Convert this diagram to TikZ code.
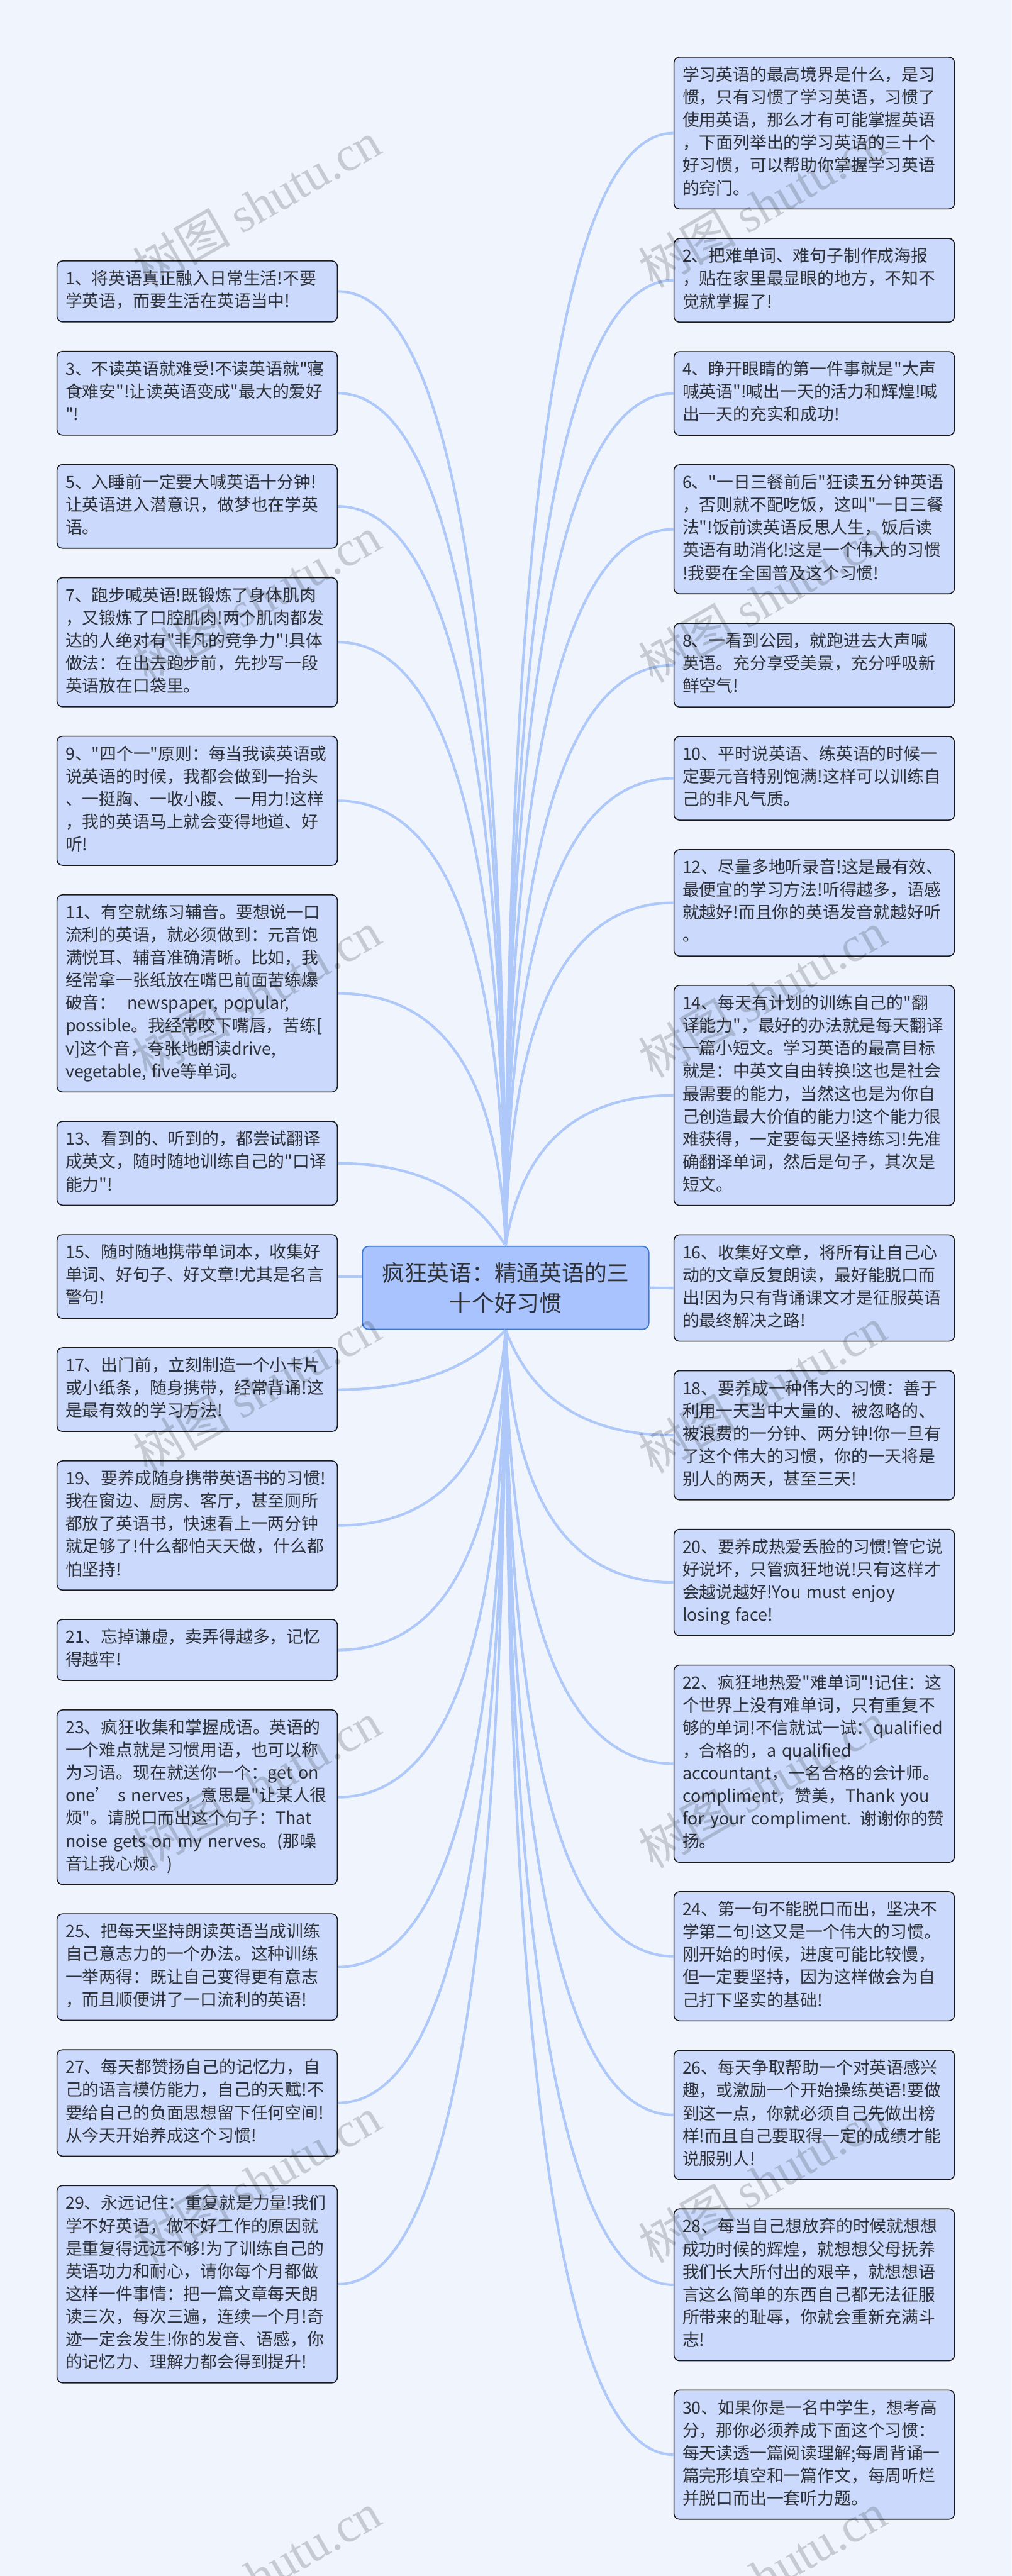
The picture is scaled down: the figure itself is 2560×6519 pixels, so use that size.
\documentclass[tikz,border=0pt]{standalone}
\usepackage{fontspec}
\setmainfont{Noto Sans CJK SC}[Ligatures=TeXOff]
\newfontfamily\markfont{Liberation Serif}
\usetikzlibrary{positioning}
\definecolor{bgcol}{HTML}{EFF4FD}
\definecolor{topicfill}{HTML}{CBDAFC}
\definecolor{rootfill}{HTML}{A9C3FE}
\definecolor{rootline}{HTML}{3C78D8}
\definecolor{branchcol}{HTML}{AEC8F9}
\definecolor{textcol}{HTML}{2E3138}
\tikzstyle{topic} = [rectangle, rounded corners=14pt, draw=black!90, line width=2.5pt, fill=topicfill, text=textcol, text width=666.5pt, inner xsep=21.5pt, inner ysep=19.75pt, align=left, font=\fontsize{42.67}{57.45}\selectfont, execute at begin node=\strut, execute at end node=\strut]
\tikzstyle{root} = [rectangle, rounded corners=16pt, draw=rootline, line width=3pt, fill=rootfill, text=textcol, minimum width=725pt, minimum height=210pt, align=center, font=\fontsize{56.9}{76}\selectfont]
\tikzstyle{branch} = [branchcol, line width=6.5pt]
\tikzstyle{stamp} = [rotate=30, text=black, opacity=.17, font=\fontsize{124}{124}\selectfont]
\newcommand{\marktext}{树图 {\markfont shutu.cn}}

\begin{document}
\begin{tikzpicture}[x=1pt, y=1pt, node distance=72pt]
\clip (0,0) rectangle (2560,-6519);
\fill[bgcol] (0,0) rectangle (2560,-6519);

\node(root) [root] at (1279.5,-3259) {疯狂英语：精通英语的三\\十个好习惯};

\node(tip1) [topic] at (499,-737.5) {1、将英语真正融入日常生活!不要\\学英语，而要生活在英语当中!};
\node(tip3) [topic, below=of tip1] {3、不读英语就难受!不读英语就"寝\\食难安"!让读英语变成"最大的爱好\\"!};
\node(tip5) [topic, below=of tip3] {5、入睡前一定要大喊英语十分钟!\\让英语进入潜意识，做梦也在学英\\语。};
\node(tip7) [topic, below=of tip5] {7、跑步喊英语!既锻炼了身体肌肉\\，又锻炼了口腔肌肉!两个肌肉都发\\达的人绝对有"非凡的竞争力"!具体\\做法：在出去跑步前，先抄写一段\\英语放在口袋里。};
\node(tip9) [topic, below=of tip7] {9、"四个一"原则：每当我读英语或\\说英语的时候，我都会做到一抬头\\、一挺胸、一收小腹、一用力!这样\\，我的英语马上就会变得地道、好\\听!};
\node(tip11) [topic, below=of tip9] {11、有空就练习辅音。要想说一口\\流利的英语，就必须做到：元音饱\\满悦耳、辅音准确清晰。比如，我\\经常拿一张纸放在嘴巴前面苦练爆\\破音：~~newspaper, popular,\\possible。我经常咬下嘴唇，苦练[\\v]这个音，夸张地朗读drive,\\vegetable, five等单词。};
\node(tip13) [topic, below=of tip11] {13、看到的、听到的，都尝试翻译\\成英文，随时随地训练自己的"口译\\能力"!};
\node(tip15) [topic, below=of tip13] {15、随时随地携带单词本，收集好\\单词、好句子、好文章!尤其是名言\\警句!};
\node(tip17) [topic, below=of tip15] {17、出门前，立刻制造一个小卡片\\或小纸条，随身携带，经常背诵!这\\是最有效的学习方法!};
\node(tip19) [topic, below=of tip17] {19、要养成随身携带英语书的习惯!\\我在窗边、厨房、客厅，甚至厕所\\都放了英语书，快速看上一两分钟\\就足够了!什么都怕天天做，什么都\\怕坚持!};
\node(tip21) [topic, below=of tip19] {21、忘掉谦虚，卖弄得越多，记忆\\得越牢!};
\node(tip23) [topic, below=of tip21] {23、疯狂收集和掌握成语。英语的\\一个难点就是习惯用语，也可以称\\为习语。现在就送你一个：get on\\one’ s nerves，意思是"让某人很\\烦"。请脱口而出这个句子：That\\noise gets on my nerves。(那噪\\音让我心烦。)};
\node(tip25) [topic, below=of tip23] {25、把每天坚持朗读英语当成训练\\自己意志力的一个办法。这种训练\\一举两得：既让自己变得更有意志\\，而且顺便讲了一口流利的英语!};
\node(tip27) [topic, below=of tip25] {27、每天都赞扬自己的记忆力，自\\己的语言模仿能力，自己的天赋!不\\要给自己的负面思想留下任何空间!\\从今天开始养成这个习惯!};
\node(tip29) [topic, below=of tip27] {29、永远记住：重复就是力量!我们\\学不好英语，做不好工作的原因就\\是重复得远远不够!为了训练自己的\\英语功力和耐心，请你每个月都做\\这样一件事情：把一篇文章每天朗\\读三次，每次三遍，连续一个月!奇\\迹一定会发生!你的发音、语感，你\\的记忆力、理解力都会得到提升!};

\node(intro) [topic] at (2060.25,-336.8) {学习英语的最高境界是什么，是习\\惯，只有习惯了学习英语，习惯了\\使用英语，那么才有可能掌握英语\\，下面列举出的学习英语的三十个\\好习惯，可以帮助你掌握学习英语\\的窍门。};
\node(tip2) [topic, below=of intro] {2、把难单词、难句子制作成海报\\，贴在家里最显眼的地方，不知不\\觉就掌握了!};
\node(tip4) [topic, below=of tip2] {4、睁开眼睛的第一件事就是"大声\\喊英语"!喊出一天的活力和辉煌!喊\\出一天的充实和成功!};
\node(tip6) [topic, below=of tip4] {6、"一日三餐前后"狂读五分钟英语\\，否则就不配吃饭，这叫"一日三餐\\法"!饭前读英语反思人生，饭后读\\英语有助消化!这是一个伟大的习惯\\!我要在全国普及这个习惯!};
\node(tip8) [topic, below=of tip6] {8、一看到公园，就跑进去大声喊\\英语。充分享受美景，充分呼吸新\\鲜空气!};
\node(tip10) [topic, below=of tip8] {10、平时说英语、练英语的时候一\\定要元音特别饱满!这样可以训练自\\己的非凡气质。};
\node(tip12) [topic, below=of tip10] {12、尽量多地听录音!这是最有效、\\最便宜的学习方法!听得越多，语感\\就越好!而且你的英语发音就越好听\\。};
\node(tip14) [topic, below=of tip12] {14、每天有计划的训练自己的"翻\\译能力"，最好的办法就是每天翻译\\一篇小短文。学习英语的最高目标\\就是：中英文自由转换!这也是社会\\最需要的能力，当然这也是为你自\\己创造最大价值的能力!这个能力很\\难获得，一定要每天坚持练习!先准\\确翻译单词，然后是句子，其次是\\短文。};
\node(tip16) [topic, below=of tip14] {16、收集好文章，将所有让自己心\\动的文章反复朗读，最好能脱口而\\出!因为只有背诵课文才是征服英语\\的最终解决之路!};
\node(tip18) [topic, below=of tip16] {18、要养成一种伟大的习惯：善于\\利用一天当中大量的、被忽略的、\\被浪费的一分钟、两分钟!你一旦有\\了这个伟大的习惯，你的一天将是\\别人的两天，甚至三天!};
\node(tip20) [topic, below=of tip18] {20、要养成热爱丢脸的习惯!管它说\\好说坏，只管疯狂地说!只有这样才\\会越说越好!You must enjoy\\losing face!};
\node(tip22) [topic, below=of tip20] {22、疯狂地热爱"难单词"!记住：这\\个世界上没有难单词，只有重复不\\够的单词!不信就试一试：qualified\\，合格的，a qualified\\accountant，一名合格的会计师。\\compliment，赞美，Thank you\\for your compliment. 谢谢你的赞\\扬。};
\node(tip24) [topic, below=of tip22] {24、第一句不能脱口而出，坚决不\\学第二句!这又是一个伟大的习惯。\\刚开始的时候，进度可能比较慢，\\但一定要坚持，因为这样做会为自\\己打下坚实的基础!};
\node(tip26) [topic, below=of tip24] {26、每天争取帮助一个对英语感兴\\趣，或激励一个开始操练英语!要做\\到这一点，你就必须自己先做出榜\\样!而且自己要取得一定的成绩才能\\说服别人!};
\node(tip28) [topic, below=of tip26] {28、每当自己想放弃的时候就想想\\成功时候的辉煌，就想想父母抚养\\我们长大所付出的艰辛，就想想语\\言这么简单的东西自己都无法征服\\所带来的耻辱，你就会重新充满斗\\志!};
\node(tip30) [topic, below=of tip28] {30、如果你是一名中学生，想考高\\分，那你必须养成下面这个习惯：\\每天读透一篇阅读理解;每周背诵一\\篇完形填空和一篇作文，每周听烂\\并脱口而出一套听力题。};

\draw [branch] (tip1.east) .. controls +(278,0) and +(-5,1611) .. (root.north);
\draw [branch] (tip3.east) .. controls +(278,0) and +(-5,1439) .. (root.north);
\draw [branch] (tip5.east) .. controls +(278,0) and +(-5,1248) .. (root.north);
\draw [branch] (tip7.east) .. controls +(277,0) and +(-6,1019) .. (root.north);
\draw [branch] (tip9.east) .. controls +(275,0) and +(-8,751) .. (root.north);
\draw [branch] (tip11.east) .. controls +(267,0) and +(-17,427) .. (root.north);
\draw [branch] (tip13.east) .. controls +(197,0) and +(-87,140) .. (root.north);
\draw [branch] (tip15.east) -- (tip15.east -| root.west);
\draw [branch] (tip17.east) .. controls +(186,0) and +(-97,-102) .. (root.south);
\draw [branch] (tip19.east) .. controls +(256,0) and +(-27,-331) .. (root.south);
\draw [branch] (tip21.east) .. controls +(271,0) and +(-12,-542) .. (root.south);
\draw [branch] (tip23.east) .. controls +(276,0) and +(-7,-790) .. (root.south);
\draw [branch] (tip25.east) .. controls +(278,0) and +(-5,-1077) .. (root.south);
\draw [branch] (tip27.east) .. controls +(278,0) and +(-5,-1305) .. (root.south);
\draw [branch] (tip29.east) .. controls +(278,0) and +(-5,-1611) .. (root.south);

\draw [branch] (intro.west) .. controls +(-278,0) and +(5,1879) .. (root.north);
\draw [branch] (tip2.west) .. controls +(-278,0) and +(5,1630) .. (root.north);
\draw [branch] (tip4.west) .. controls +(-278,0) and +(5,1439) .. (root.north);
\draw [branch] (tip6.west) .. controls +(-278,0) and +(5,1210) .. (root.north);
\draw [branch] (tip8.west) .. controls +(-277,0) and +(6,980) .. (root.north);
\draw [branch] (tip10.west) .. controls +(-276,0) and +(7,790) .. (root.north);
\draw [branch] (tip12.west) .. controls +(-272,0) and +(11,579) .. (root.north);
\draw [branch] (tip14.west) .. controls +(-243,0) and +(40,254) .. (root.north);
\draw [branch] (root.east) -- (tip16.west);
\draw [branch] (tip18.west) .. controls +(-217,0) and +(67,-179) .. (root.south);
\draw [branch] (tip20.west) .. controls +(-267,0) and +(17,-427) .. (root.south);
\draw [branch] (tip22.west) .. controls +(-275,0) and +(8,-733) .. (root.south);
\draw [branch] (tip24.west) .. controls +(-278,0) and +(5,-1057) .. (root.south);
\draw [branch] (tip26.west) .. controls +(-278,0) and +(5,-1325) .. (root.south);
\draw [branch] (tip28.west) .. controls +(-278,0) and +(5,-1612) .. (root.south);
\draw [branch] (tip30.west) .. controls +(-278,0) and +(5,-1898) .. (root.south);

\node(mark1) [stamp] at (649,-517) {\marktext};
\node(mark2) [stamp] at (1929,-517) {\marktext};
\node(mark3) [stamp] at (649,-1517) {\marktext};
\node(mark4) [stamp] at (1929,-1517) {\marktext};
\node(mark5) [stamp] at (649,-2517) {\marktext};
\node(mark6) [stamp] at (1929,-2517) {\marktext};
\node(mark7) [stamp] at (649,-3517) {\marktext};
\node(mark8) [stamp] at (1929,-3517) {\marktext};
\node(mark9) [stamp] at (649,-4517) {\marktext};
\node(mark10) [stamp] at (1929,-4517) {\marktext};
\node(mark11) [stamp] at (649,-5517) {\marktext};
\node(mark12) [stamp] at (1929,-5517) {\marktext};
\node(mark13) [stamp] at (649,-6517) {\marktext};
\node(mark14) [stamp] at (1929,-6517) {\marktext};
\end{tikzpicture}
\end{document}
